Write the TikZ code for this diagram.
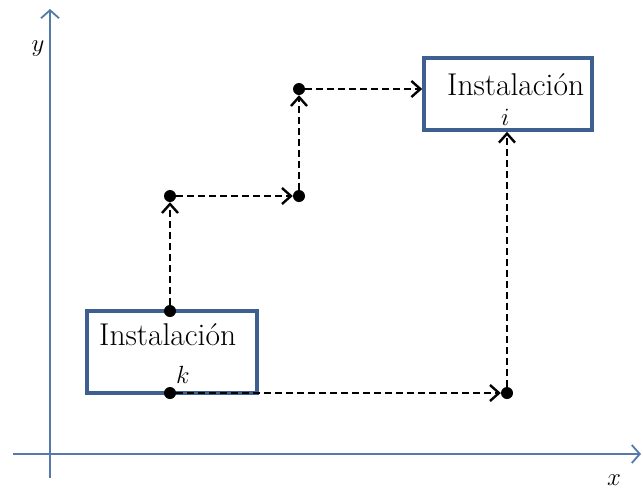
\documentclass[tikz,border=0pt]{standalone}
\usetikzlibrary{arrows.meta}
\definecolor{axisc}{RGB}{84,122,172}
\definecolor{boxc}{RGB}{62,96,145}
\begin{document}
\begin{tikzpicture}[x=1pt,y=-1pt,
 axis/.style={axisc, line width=1.8pt, -{Straight Barb[length=8pt,width=18pt,line width=1.8pt]}},
 boxn/.style={draw=boxc, line width=3.6pt, rectangle, inner sep=0pt},
 dot/.style={circle, fill=black, inner sep=0pt, minimum size=12pt},
 flow/.style={line width=2.4pt, dash pattern=on 7pt off 4pt, -{Straight Barb[length=9pt,width=16pt,line width=2.4pt]}},
 lbl/.style={inner sep=0pt, anchor=base west, font=\fontsize{31.5}{36}\selectfont}]
\useasboundingbox (0,0) rectangle (643,491);
% axes
\coordinate (yb) at (50,478);
\coordinate (yt) at (50,9);
\coordinate (xb) at (13,454);
\coordinate (xt) at (641,454);
\draw[axis] (yb) -- (yt);
\draw[axis] (xb) -- (xt);
\node[lbl, anchor=base] (ylab) at (38,51) {$y$};
\node[lbl, anchor=base] (xlab) at (614,485) {$x$};
% boxes
\node[boxn, minimum width=170pt, minimum height=82pt] (bk) at (172,352) {};
\node[boxn, minimum width=168pt, minimum height=72pt] (bi) at (508,94) {};
\node[lbl] (tk) at (99,345) {Instalación};
\node[lbl] (kk) at (176,383) {$k$};
\node[lbl] (ti) at (447,95) {Instalación};
\node[lbl] (ii) at (501,125) {$i$};
% dots
\node[dot] (d1) at (170,393) {};
\node[dot] (d2) at (170,311) {};
\node[dot] (d3) at (170,196) {};
\node[dot] (d4) at (299,196) {};
\node[dot] (d5) at (299,89) {};
\node[dot] (d6) at (507,393) {};
% flows
\draw[flow] (d1) -- (d6);
\draw[flow] (d6) -- (bi.south -| d6);
\draw[flow] (d2) -- (d3);
\draw[flow] (d3) -- (d4);
\draw[flow] (d4) -- (d5);
\draw[flow] (d5) -- (d5 -| bi.west);
\end{tikzpicture}
\end{document}
